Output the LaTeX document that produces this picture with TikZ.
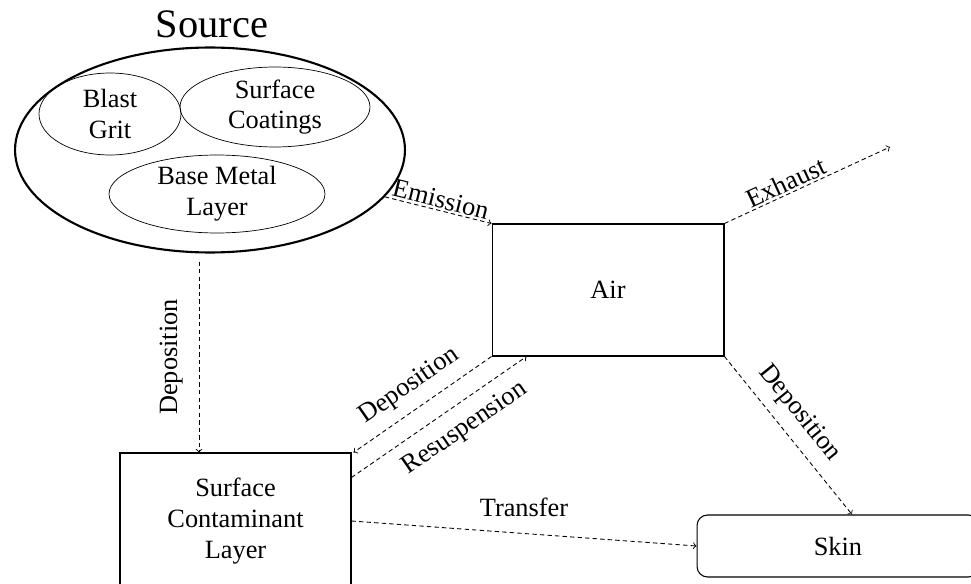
\documentclass[tikz,border=0pt]{standalone}
\usepackage{fontspec}
\setmainfont{Liberation Serif}
\usetikzlibrary{shapes.geometric,calc}

\begin{document}
\begin{tikzpicture}[x=0.02cm, y=-0.02cm,
  every node/.style = {align=center, font=\fontsize{15}{17.5}\selectfont},
  blob/.style = {shape=ellipse, draw, inner sep=0pt},
  box/.style = {shape=rectangle, draw, semithick, inner sep=0pt},
  flow/.style = {->, draw, line width=0.5pt, dash pattern=on 2.5pt off 1.8pt},
  lbl/.style = {inner sep=1pt, sloped}
  ]
  \useasboundingbox (0,0) rectangle (971,584);
  % source and what it is made of
  \node [anchor=base, font=\fontsize{23}{26}\selectfont] (title) at (212,38) {Source};
  \node [blob, line width=1.2pt, minimum width=7.8cm, minimum height=4.1cm] (src) at (210,150) {};
  \node [blob, minimum width=2.84cm, minimum height=1.64cm] (grit) at (110,114) {Blast\\Grit};
  \node [blob, minimum width=3.8cm, minimum height=1.6cm] (coat) at (275,107) {Surface\\Coatings};
  \node [blob, minimum width=4.32cm, minimum height=1.56cm] (metal) at (217,194) {Base Metal\\Layer};

  % compartments
  \node [box, minimum width=4.64cm, minimum height=2.64cm] (air) at (608,290) {Air};
  \node [box, minimum width=4.62cm, minimum height=2.72cm] (scl) at (235.5,521) {Surface\\Contaminant\\Layer};
  \node [box, rounded corners=6pt, minimum width=5.64cm, minimum height=1.24cm] (skin) at (838,546) {Skin};
  \coordinate (out) at (890,147);

  % pathways
  \draw [flow] (src.-15) -- node [lbl, above] {Emission} (air.north west);
  \draw [flow] (air.north east) -- node [lbl, above, pos=0.4] {Exhaust} (out);
  \draw [flow] (air.south east) -- node [lbl, above=5pt, pos=0.45] {Deposition} ($(skin.north)+(14,0)$);
  \draw [flow] ($(src.south)+(-11,8)$) -- node [rotate=90, anchor=south, inner sep=9pt] {Deposition} ($(scl.north)+(-36.5,0)$);
  \draw [flow] (air.south west) -- node [lbl, above=5pt] {Deposition} ($(scl.north east)+(2,0)$);
  \draw [flow] ($(scl.north east)+(0,25)$) -- node [lbl, below=6pt, pos=0.57] {Resuspension} ($(air.south west)+(35,0)$);
  \draw [flow] (scl.east) -- node [inner sep=1pt, above=8pt] {Transfer} (skin.west);
\end{tikzpicture}
\end{document}
